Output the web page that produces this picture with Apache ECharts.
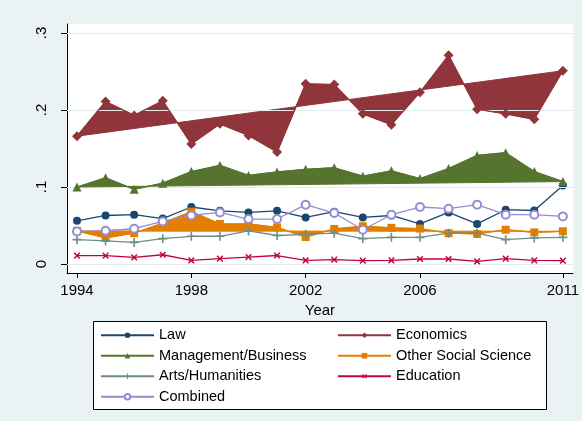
<!DOCTYPE html>
<html>
<head>
<meta charset="utf-8">
<script src="https://cdn.jsdelivr.net/npm/echarts@6/dist/echarts.min.js"></script>
<style>
html,body{margin:0;padding:0;background:#EAF2F3;}
#chart{width:582px;height:421px;}
</style>
</head>
<body>
<div id="chart"></div>
<script>
var years = [1994,1995,1996,1997,1998,1999,2000,2001,2002,2003,2004,2005,2006,2007,2008,2009,2010,2011];
var law  = [0.056,0.063,0.064,0.059,0.074,0.069,0.067,0.069,0.0605,0.068,0.0605,0.063,0.052,0.067,0.052,0.0705,0.0695,0.102];
var econ = [0.166,0.211,0.193,0.212,0.156,0.182,0.167,0.1455,0.234,0.233,0.195,0.181,0.223,0.271,0.201,0.195,0.188,0.251];
var mgmt = [0.100,0.112,0.097,0.105,0.120,0.128,0.115,0.1195,0.123,0.125,0.114,0.121,0.111,0.124,0.141,0.1445,0.120,0.107];
var oss  = [0.043,0.034,0.040,0.053,0.068,0.052,0.052,0.0475,0.035,0.0455,0.049,0.047,0.046,0.040,0.039,0.0445,0.041,0.0425];
var arts = [0.0316,0.030,0.028,0.033,0.036,0.036,0.043,0.037,0.0385,0.040,0.033,0.0346,0.0346,0.040,0.040,0.0316,0.0338,0.0346];
var edu  = [0.0108,0.0108,0.0086,0.012,0.0047,0.0069,0.009,0.011,0.0047,0.0056,0.0043,0.0047,0.0065,0.0065,0.0034,0.0069,0.0047,0.0043];
var comb = [0.0423,0.0432,0.0458,0.0553,0.0631,0.067,0.0584,0.0584,0.077,0.0662,0.0445,0.064,0.074,0.0718,0.077,0.064,0.064,0.0618];
var xTicks = [1994,1998,2002,2006,2011];
var yTicks = [0,0.1,0.2,0.3];
var yTickLabels = ['0','.1','.2','.3'];

var C = {
  navy:'#1A476F', maroon:'#90353B', green:'#55752F', orange:'#E37E00',
  teal:'#6E8E84', cran:'#C10534', lav:'#938DD2'
};
var FONT = '"Liberation Sans", Arial, sans-serif';
var PLUS = 'path://M4.1,0H5.9V4.1H10V5.9H5.9V10H4.1V5.9H0V4.1H4.1Z';

function pairs(vals){ return years.map(function(y,i){ return [y, vals[i]]; }); }

function polySeries(name, vals, color, z){
  return {
    name: name, type: 'custom', z: z,
    data: [[years[0], vals[0]]],
    silent: true,
    renderItem: function(params, api){
      var pts = years.map(function(y,i){ return api.coord([y, vals[i]]); });
      return {
        type: 'polygon',
        shape: { points: pts },
        style: { fill: color, stroke: color, lineWidth: 1 }
      };
    }
  };
}

function lineSeries(name, vals, color, symbol, size, z, extra){
  var s = {
    name: name, type: 'line', z: z,
    data: pairs(vals),
    symbol: symbol, symbolSize: size, showSymbol: true,
    lineStyle: { color: color, width: 1.3 },
    itemStyle: { color: color },
    animation: false
  };
  if (extra) for (var k in extra) s[k] = extra[k];
  return s;
}

var legendCommon = {
  orient: 'vertical', top: 327, padding: 0,
  itemWidth: 53, itemHeight: 7, itemGap: 4,
  textStyle: { color: '#000', fontSize: 14.5, fontFamily: FONT, lineHeight: 16.5 },
  selectedMode: false
};

var chart = echarts.init(document.getElementById('chart'), null, {renderer:'canvas'});
var option = {
  animation: false,
  backgroundColor: '#EAF2F3',
  textStyle: { fontFamily: FONT },
  grid: { left: 67, right: 9, top: 24, bottom: 148, show: true, backgroundColor: '#ffffff', borderWidth: 0 },
  xAxis: {
    type: 'value', min: 1993.65, max: 2011.35,
    name: 'Year', nameLocation: 'middle', nameGap: 24,
    nameTextStyle: { color: '#000', fontSize: 15, fontFamily: FONT },
    axisLine: { show: true, onZero: false, lineStyle: { color: '#000', width: 1 } },
    axisTick: { show: true, length: 5, customValues: xTicks, lineStyle: { color: '#000' } },
    axisLabel: { customValues: xTicks, color: '#000', fontSize: 15, margin: 10, fontFamily: FONT,
      formatter: function(v){ return String(Math.round(v)); } },
    splitLine: { show: false }
  },
  yAxis: {
    type: 'value', min: -0.0117, max: 0.3117,
    axisLine: { show: true, onZero: false, lineStyle: { color: '#000', width: 1 } },
    axisTick: { show: true, length: 6, customValues: yTicks, lineStyle: { color: '#000' } },
    axisLabel: { customValues: yTicks, color: '#000', fontSize: 15, margin: 18, rotate: 90, fontFamily: FONT,
      formatter: function(v){
        for (var i=0;i<yTicks.length;i++) if (Math.abs(v-yTicks[i])<1e-6) return yTickLabels[i];
        return '';
      } },
    splitLine: { show: false }
  },
  legend: [
    Object.assign({}, legendCommon, {
      data: ['Law','Management/Business','Arts/Humanities','Combined'], left: 100 }),
    Object.assign({}, legendCommon, {
      data: ['Economics','Other Social Science','Education'], left: 337 })
  ],
  graphic: [
    { type: 'rect', z: -1, shape: { x: 93.5, y: 321.5, width: 453, height: 88 },
      style: { fill: '#ffffff', stroke: '#000', lineWidth: 1 } }
  ],
  series: [
    {
      name: 'grid', type: 'line', data: [], z: 1, silent: true,
      markLine: {
        silent: true, symbol: ['none','none'], label: { show: false },
        lineStyle: { color: '#E3ECEE', width: 1, type: 'solid' },
        data: yTicks.map(function(v){ return { yAxis: v }; })
      }
    },
    lineSeries('Law', law, C.navy, 'circle', 8, 3),
    polySeries('econFill', econ, C.maroon, 4),
    lineSeries('Economics', econ, C.maroon, 'diamond', 10, 5),
    polySeries('mgmtFill', mgmt, C.green, 6),
    lineSeries('Management/Business', mgmt, C.green, 'triangle', 9, 7),
    polySeries('ossFill', oss, C.orange, 8),
    lineSeries('Other Social Science', oss, C.orange, 'rect', 8, 9),
    lineSeries('Arts/Humanities', arts, C.teal, PLUS, 9, 10),
    lineSeries('Education', edu, C.cran, PLUS, 8, 11, { symbolRotate: 45 }),
    lineSeries('Combined', comb, C.lav, 'emptyCircle', 8, 12, { itemStyle: { color: C.lav, borderWidth: 1.2 } })
  ]
};
chart.setOption(option);
</script>
</body>
</html>
